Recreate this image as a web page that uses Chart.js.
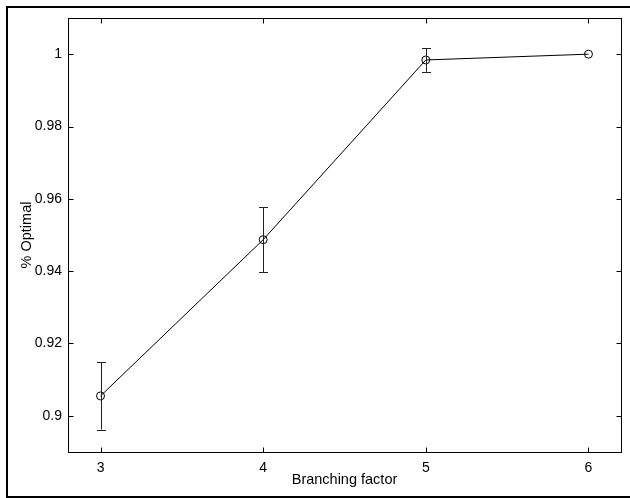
<!DOCTYPE html>
<html>
<head>
<meta charset="utf-8">
<script src="https://cdn.jsdelivr.net/npm/chart.js@4/dist/chart.umd.min.js"></script>
<style>
html, body { margin: 0; padding: 0; background: #fff; overflow: hidden; }
canvas { display: block; }
</style>
</head>
<body>
<canvas id="chart" width="630" height="498"></canvas>
<script>
var branching = [3, 4, 5, 6];
var optimal = [0.9055, 0.9487, 0.9984, 1.0];
var errLow = [0.8962, 0.9397, 0.9951, 1.0];
var errHigh = [0.9148, 0.9577, 1.0017, 1.0];
var xTicks = [3, 4, 5, 6];
var yTicks = [0.9, 0.92, 0.94, 0.96, 0.98, 1];

var fontFamily = '"Liberation Sans", Arial, Helvetica, sans-serif';

var points = branching.map(function (b, i) {
  return { x: b, y: optimal[i] };
});

// box round the plot, ticks pointing in, error bars and the outer frame
var framePlugin = {
  id: 'frame',
  beforeDraw: function (chart) {
    var ctx = chart.ctx;
    ctx.save();
    ctx.fillStyle = '#fff';
    ctx.fillRect(0, 0, chart.width, chart.height);
    ctx.restore();
  },
  afterDatasetsDraw: function (chart) {
    var ctx = chart.ctx;
    var xs = chart.scales.x, ys = chart.scales.y;
    ctx.save();
    ctx.strokeStyle = '#222';
    ctx.lineWidth = 1;
    for (var i = 0; i < branching.length; i++) {
      if (errHigh[i] === errLow[i]) continue;
      var px = Math.round(xs.getPixelForValue(branching[i])) + 0.5;
      var top = ys.getPixelForValue(errHigh[i]);
      var bot = ys.getPixelForValue(errLow[i]);
      ctx.beginPath();
      ctx.moveTo(px, top);
      ctx.lineTo(px, bot);
      ctx.moveTo(px - 4.5, Math.round(top) + 0.5);
      ctx.lineTo(px + 4.5, Math.round(top) + 0.5);
      ctx.moveTo(px - 4.5, Math.round(bot) + 0.5);
      ctx.lineTo(px + 4.5, Math.round(bot) + 0.5);
      ctx.stroke();
    }
    ctx.restore();
  },
  afterDraw: function (chart) {
    var ctx = chart.ctx;
    var a = chart.chartArea;
    var xs = chart.scales.x, ys = chart.scales.y;
    var l = Math.round(a.left) + 0.5, r = Math.round(a.right) + 0.5;
    var t = Math.round(a.top) + 0.5, b = Math.round(a.bottom) + 0.5;
    ctx.save();
    ctx.strokeStyle = '#000';
    ctx.lineWidth = 1;
    ctx.strokeRect(l, t, r - l, b - t);
    ctx.beginPath();
    xTicks.forEach(function (v) {
      var px = Math.round(xs.getPixelForValue(v)) + 0.5;
      ctx.moveTo(px, b); ctx.lineTo(px, b - 5);
      ctx.moveTo(px, t); ctx.lineTo(px, t + 5);
    });
    yTicks.forEach(function (v) {
      var py = Math.round(ys.getPixelForValue(v)) + 0.5;
      ctx.moveTo(l, py); ctx.lineTo(l + 5, py);
      ctx.moveTo(r, py); ctx.lineTo(r - 5, py);
    });
    ctx.stroke();
    // outer frame: left, top and bottom only, the right side is off the picture
    ctx.lineWidth = 2;
    ctx.beginPath();
    ctx.moveTo(chart.width, 7);
    ctx.lineTo(7, 7);
    ctx.lineTo(7, 497);
    ctx.lineTo(chart.width, 497);
    ctx.stroke();
    ctx.restore();
  }
};

var chart = new Chart(document.getElementById('chart'), {
  type: 'scatter',
  data: {
    datasets: [{
      data: points,
      showLine: true,
      borderColor: '#000',
      borderWidth: 1,
      pointRadius: 4,
      pointHoverRadius: 4,
      pointBorderColor: '#000',
      pointBorderWidth: 1,
      pointBackgroundColor: 'rgba(0,0,0,0)'
    }]
  },
  options: {
    responsive: false,
    animation: false,
    devicePixelRatio: 1,
    layout: { padding: { left: 0, right: 9, top: 18, bottom: 0 } },
    plugins: {
      legend: { display: false },
      tooltip: { enabled: false }
    },
    scales: {
      x: {
        type: 'linear',
        min: 2.8,
        max: 6.2,
        afterBuildTicks: function (scale) {
          scale.ticks = xTicks.map(function (v) { return { value: v }; });
        },
        afterFit: function (scale) { scale.height = 46; },
        grid: { display: false, drawTicks: false },
        border: { display: false },
        ticks: {
          padding: 8,
          color: '#000',
          font: { family: fontFamily, size: 14 },
          callback: function (v) { return String(v); }
        },
        title: {
          display: true,
          text: 'Branching factor',
          color: '#000',
          font: { family: fontFamily, size: 14.5 },
          padding: { top: 0, bottom: 9 }
        }
      },
      y: {
        type: 'linear',
        min: 0.89,
        max: 1.01,
        afterBuildTicks: function (scale) {
          scale.ticks = yTicks.map(function (v) { return { value: v }; });
        },
        afterFit: function (scale) { scale.width = 68; },
        grid: { display: false, drawTicks: false },
        border: { display: false },
        ticks: {
          padding: 6,
          color: '#000',
          font: { family: fontFamily, size: 14 },
          callback: function (v) { return String(+v.toFixed(2)); }
        },
        title: {
          display: true,
          text: '% Optimal',
          color: '#000',
          font: { family: fontFamily, size: 14.5 },
          padding: { top: 18, bottom: 0 }
        }
      }
    }
  },
  plugins: [framePlugin]
});
</script>
</body>
</html>
